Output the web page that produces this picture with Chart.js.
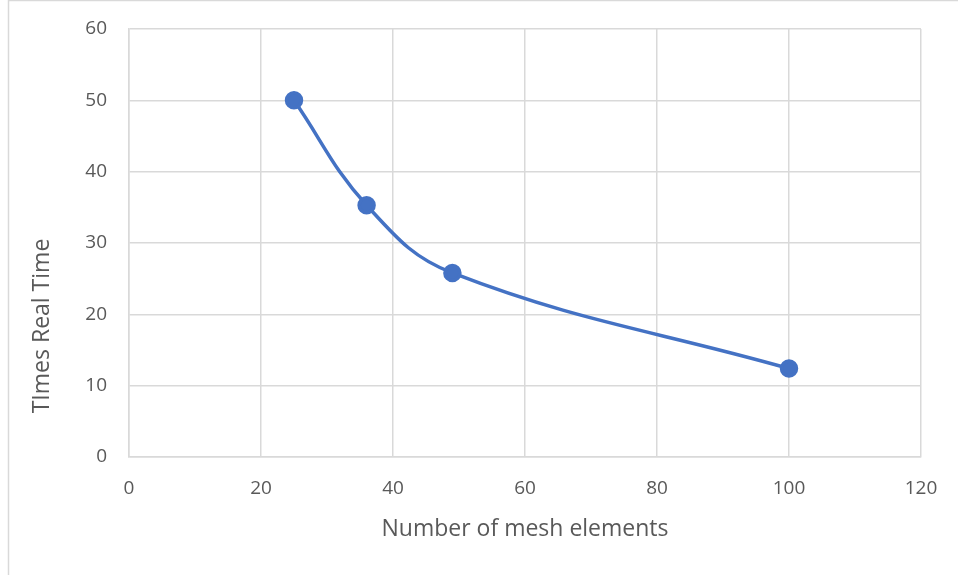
<!DOCTYPE html>
<html lang="en">
<head>
    <meta charset="UTF-8">
    <title>Times Real Time vs mesh elements</title>
    <script src="https://cdn.jsdelivr.net/npm/chart.js"></script>
    <style>
        body {
            margin: 0;
            padding: 0;
            background-color: #ffffff;
        }

        .chart-container {
            position: relative;
            width: 958px;
            height: 575px;
        }
    </style>
</head>
<body>
    <div class="chart-container">
        <canvas id="meshChart"></canvas>
    </div>

    <script>
        const meshElements = [25, 36, 49, 100];
        const timesRealTime = [50, 35.3, 25.8, 12.4];
        const xTicks = [0, 20, 40, 60, 80, 100, 120];
        const yTicks = [0, 10, 20, 30, 40, 50, 60];
        const yTitle = 'TImes Real Time';

        const textColor = '#595959';
        const gridColor = '#d9d9d9';
        const fontFamily = '"Open Sans", sans-serif';

        // light frame around the whole chart, like the Excel chart area
        const frame = {
            id: 'frame',
            beforeDraw(chart) {
                const ctx = chart.ctx;
                ctx.save();
                ctx.strokeStyle = gridColor;
                ctx.lineWidth = 1.5;
                ctx.strokeRect(8.5, 0.5, 1000, 1000);
                ctx.restore();
            }
        };

        // Excel put the y title lower than the middle of the axis, so draw it by hand
        const sideTitle = {
            id: 'sideTitle',
            afterDraw(chart) {
                const ctx = chart.ctx;
                ctx.save();
                ctx.translate(42, 326);
                ctx.rotate(-Math.PI / 2);
                ctx.fillStyle = textColor;
                ctx.font = '23px ' + fontFamily;
                ctx.textAlign = 'center';
                ctx.textBaseline = 'middle';
                ctx.fillText(yTitle, 0, 0);
                ctx.restore();
            }
        };

        const points = meshElements.map((x, i) => ({ x: x, y: timesRealTime[i] }));

        new Chart(document.getElementById('meshChart'), {
            type: 'scatter',
            data: {
                datasets: [{
                    data: points,
                    showLine: true,
                    borderColor: '#4472c4',
                    backgroundColor: '#4472c4',
                    borderWidth: 3.5,
                    pointRadius: 7.5,
                    pointHoverRadius: 7.5,
                    tension: 0.4
                }]
            },
            options: {
                responsive: true,
                maintainAspectRatio: false,
                animation: false,
                layout: {
                    padding: { top: 29, right: 37, left: 0, bottom: 0 }
                },
                plugins: {
                    legend: { display: false },
                    tooltip: { enabled: false }
                },
                scales: {
                    x: {
                        type: 'linear',
                        min: 0,
                        max: 120,
                        afterBuildTicks: (axis) => { axis.ticks = xTicks.map(v => ({ value: v })); },
                        afterFit: (axis) => {
                            axis.height = 575 - 457;
                            axis.paddingLeft = 0;
                            axis.paddingRight = 0;
                        },
                        grid: { color: gridColor, lineWidth: 1.5, drawTicks: false },
                        border: { color: gridColor, width: 1.5 },
                        ticks: {
                            color: textColor,
                            padding: 20,
                            font: { family: fontFamily, size: 19 }
                        },
                        title: {
                            display: true,
                            text: 'Number of mesh elements',
                            color: textColor,
                            padding: { top: 4, bottom: 32 },
                            font: { family: fontFamily, size: 23 }
                        }
                    },
                    y: {
                        type: 'linear',
                        min: 0,
                        max: 60,
                        afterBuildTicks: (axis) => { axis.ticks = yTicks.map(v => ({ value: v })); },
                        afterFit: (axis) => {
                            axis.width = 129;
                            axis.paddingTop = 0;
                            axis.paddingBottom = 0;
                        },
                        grid: { color: gridColor, lineWidth: 1.5, drawTicks: false },
                        border: { color: gridColor, width: 1.5 },
                        ticks: {
                            color: textColor,
                            padding: 22,
                            font: { family: fontFamily, size: 19 }
                        }
                    }
                }
            },
            plugins: [frame, sideTitle]
        });
    </script>
</body>
</html>
